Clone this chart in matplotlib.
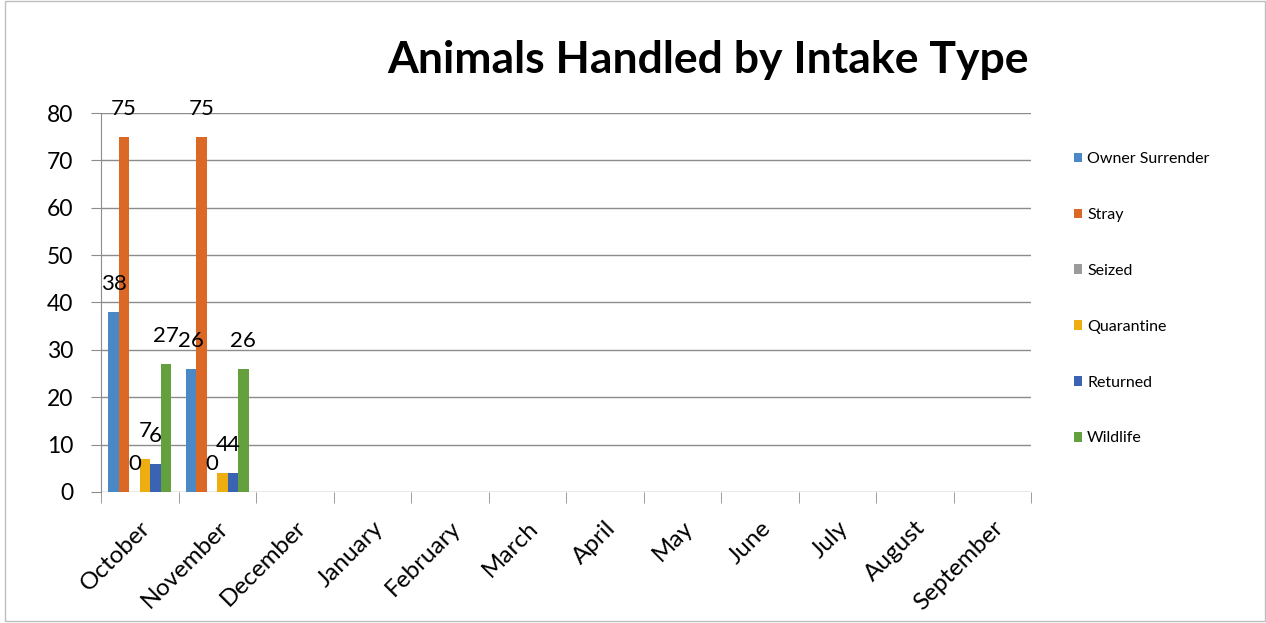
import matplotlib.pyplot as plt
import numpy as np
from matplotlib.patches import Patch, Rectangle

plt.rcParams['font.family'] = ['Lato', 'DejaVu Sans']

months = ["October", "November", "December", "January", "February", "March",
          "April", "May", "June", "July", "August", "September"]
series = ["Owner Surrender", "Stray", "Seized", "Quarantine", "Returned", "Wildlife"]
owner_surrender = [38, 26] + [np.nan] * 10
stray = [75, 75] + [np.nan] * 10
seized = [0, 0] + [np.nan] * 10
quarantine = [7, 4] + [np.nan] * 10
returned = [6, 4] + [np.nan] * 10
wildlife = [27, 26] + [np.nan] * 10
colors = ["#4a88c6", "#dc6826", "#9b9b9b", "#efae10", "#3a63b4", "#64a03e"]

values = [owner_surrender, stray, seized, quarantine, returned, wildlife]

fig = plt.figure(figsize=(12.66, 6.23), dpi=100)
ax = fig.add_axes([0.0798, 0.2103, 0.7346, 0.6083])

x = np.arange(len(months)) + 0.5
w = 0.135
for i, (name, vals, c) in enumerate(zip(series, values, colors)):
    pos = x + (i - 2.5) * w
    ax.bar(pos, vals, width=w, color=c, label=name, zorder=3)
    for p, v in zip(pos, vals):
        if not np.isnan(v):
            ax.annotate(f"{v:g}", (p, v), xytext=(0, 13), textcoords="offset points",
                        ha="center", va="bottom", fontsize=16, zorder=4)

ax.set_xlim(0, 12)
ax.set_ylim(0, 80)
ax.set_yticks(range(0, 81, 10))
ax.yaxis.grid(True, color="#8c8c8c", linewidth=1, zorder=0)
ax.set_axisbelow(True)
for s in ["top", "right", "bottom"]:
    ax.spines[s].set_visible(False)
ax.spines["left"].set_color("#8c8c8c")
ax.tick_params(axis="y", length=7, color="#8c8c8c", labelsize=16.5, pad=13)

ax.set_xticks(x)
ax.set_xticklabels(months, rotation=45, ha="right", va="top",
                   rotation_mode="anchor", fontsize=17.5)
ax.tick_params(axis="x", which="major", length=0, pad=18)
ax.set_xticks(np.arange(0, 13), minor=True)
ax.tick_params(axis="x", which="minor", length=8, color="#8c8c8c")

fig.text(0.559, 0.903, "Animals Handled by Intake Type", ha="center", va="center",
         fontsize=32, fontweight="bold")

handles = [Patch(facecolor=c, label=n) for n, c in zip(series, colors)]
fig.legend(handles=handles, loc="upper left", bbox_to_anchor=(0.843, 0.766),
           frameon=False, fontsize=11.5, handlelength=0.55, handleheight=0.55,
           handletextpad=0.3, labelspacing=2.62, borderaxespad=0)

fig.patches.append(Rectangle((0.004, 0.004), 0.995, 0.995, transform=fig.transFigure,
                             fill=False, edgecolor="#bfbfbf", linewidth=1))

fig.savefig("out.png", dpi=100)
